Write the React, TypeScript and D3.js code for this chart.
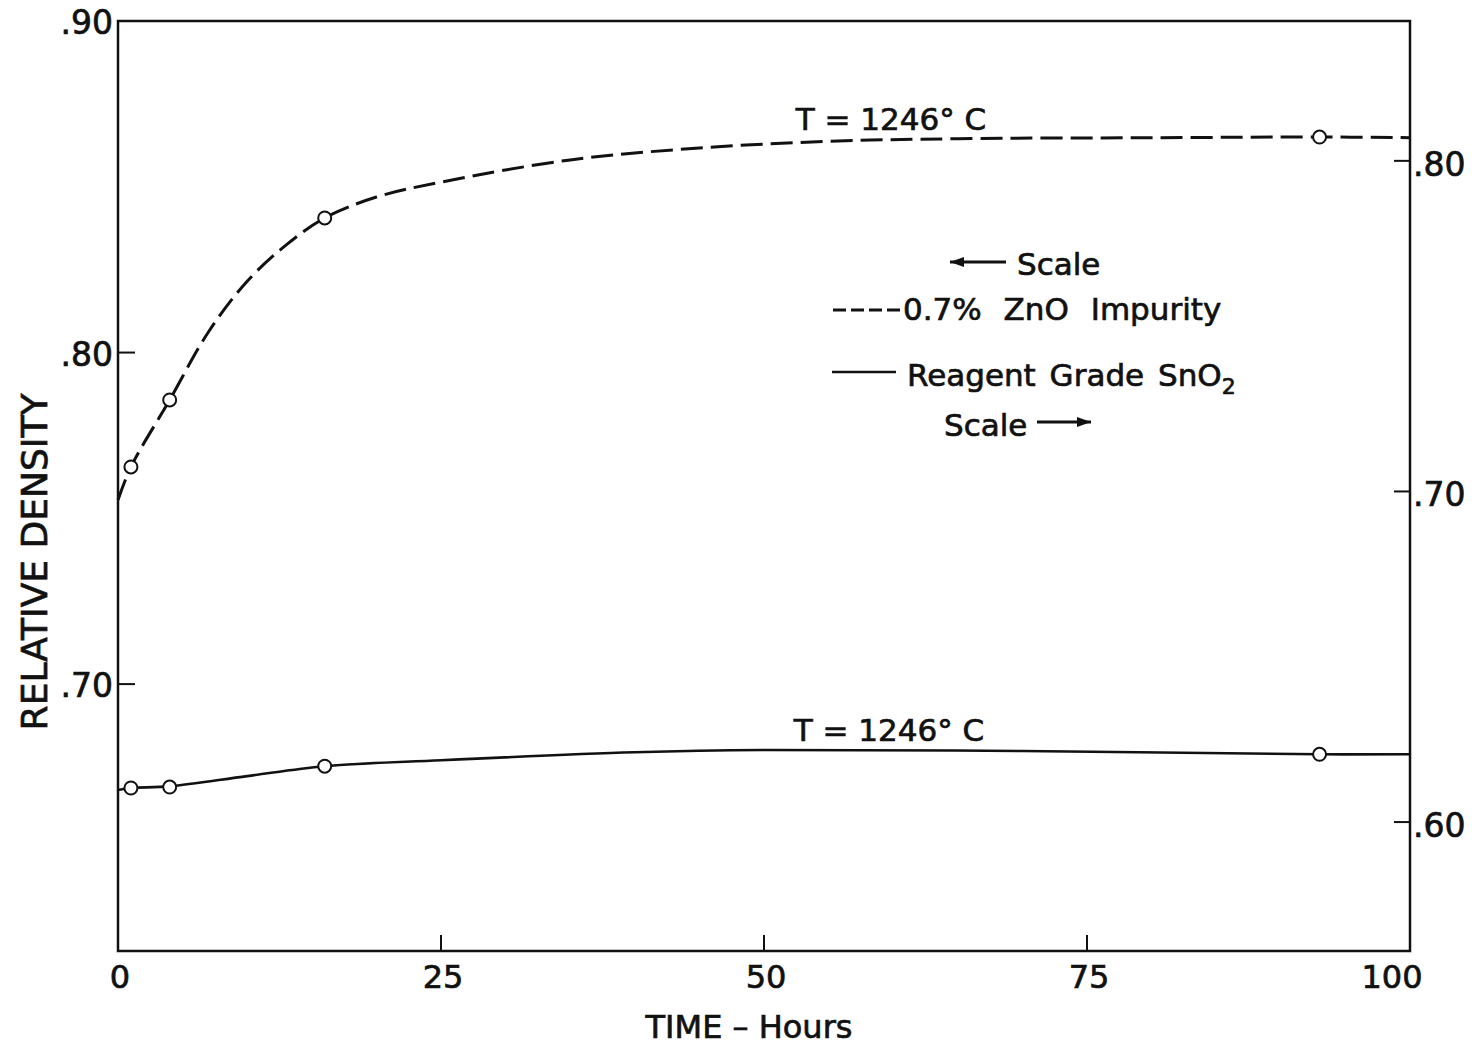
import React, { useEffect, useRef } from "react";
import * as d3 from "d3";

// 0.7% ZnO impurity (left scale) - measured points and drawn curve
const zincHours = [1, 4, 16, 93];
const zincDensity = [0.7655, 0.7857, 0.8406, 0.865];
const zincCurveHours = [0, 1, 4, 7, 10, 13, 16, 20, 25, 35, 45, 55, 65, 80, 93, 100];
const zincCurveDensity = [0.7555, 0.7655, 0.7857, 0.8062, 0.8215, 0.8324, 0.8406, 0.8469, 0.8514, 0.8581, 0.8617, 0.8637, 0.8645, 0.8648, 0.865, 0.8648];

// Reagent grade SnO2 (right scale)
const reagentHours = [1, 4, 16, 93];
const reagentDensity = [0.6103, 0.6106, 0.6169, 0.6205];
const reagentCurveHours = [0, 1, 4, 10, 16, 25, 40, 50, 70, 93, 100];
const reagentCurveDensity = [0.6097, 0.6103, 0.6108, 0.6139, 0.6169, 0.6187, 0.6211, 0.6218, 0.6215, 0.6205, 0.6205];

const xTicks = [0, 25, 50, 75, 100];
const leftTicks = [0.7, 0.8, 0.9];
const rightTicks = [0.6, 0.7, 0.8];

const FONT = "'DejaVu Sans', sans-serif";

export default function App() {
  const ref = useRef<SVGSVGElement>(null);

  useEffect(() => {
    const svg = d3.select(ref.current);
    svg.selectAll("*").remove();

    const x = d3.scaleLinear().domain([0, 100]).range([118, 1410]);
    const yLeft = d3.scaleLinear().domain([0.6195, 0.9]).range([951, 21]);
    const yRight = d3.scaleLinear().domain([0.561, 0.8423]).range([951, 21]);

    // text is drawn slightly heavier to look like the stencil lettering
    const g = svg.append("g").attr("font-family", FONT).attr("fill", "#111");
    const txt = g.append("g").attr("stroke", "#111").attr("stroke-width", 0.7);

    // frame
    g.append("rect")
      .attr("x", x(0)).attr("y", yLeft(0.9))
      .attr("width", x(100) - x(0)).attr("height", yLeft(0.6195) - yLeft(0.9))
      .attr("fill", "none").attr("stroke", "#111").attr("stroke-width", 2.5);

    // bottom ticks
    const bottom = yLeft(0.6195);
    g.selectAll(".xt").data(xTicks.slice(1, -1)).join("line")
      .attr("x1", d => x(d)).attr("x2", d => x(d))
      .attr("y1", bottom).attr("y2", bottom - 16)
      .attr("stroke", "#111").attr("stroke-width", 2);
    txt.selectAll(".xl").data(xTicks).join("text")
      .attr("x", d => (d === 100 ? x(d) - 18 : x(d) + 2))
      .attr("y", bottom + 37)
      .attr("text-anchor", "middle")
      .attr("font-size", 32)
      .text(d => String(d));

    // left ticks
    g.selectAll(".lt").data(leftTicks.slice(0, -1)).join("line")
      .attr("x1", x(0)).attr("x2", x(0) + 17)
      .attr("y1", d => yLeft(d)).attr("y2", d => yLeft(d))
      .attr("stroke", "#111").attr("stroke-width", 2);
    txt.selectAll(".ll").data(leftTicks).join("text")
      .attr("x", x(0) - 5).attr("y", d => yLeft(d) + 13)
      .attr("text-anchor", "end").attr("font-size", 33)
      .text(d => d3.format(".2f")(d).replace(/^0/, ""));

    // right ticks
    g.selectAll(".rt").data(rightTicks).join("line")
      .attr("x1", x(100)).attr("x2", x(100) - 16)
      .attr("y1", d => yRight(d)).attr("y2", d => yRight(d))
      .attr("stroke", "#111").attr("stroke-width", 2);
    txt.selectAll(".rl").data(rightTicks).join("text")
      .attr("x", x(100) + 3).attr("y", d => yRight(d) + 15)
      .attr("text-anchor", "start").attr("font-size", 33)
      .text(d => d3.format(".2f")(d).replace(/^0/, ""));

    // axis titles
    txt.append("text")
      .attr("transform", `translate(47, 562) rotate(-90)`)
      .attr("text-anchor", "middle").attr("font-size", 36)
      .text("RELATIVE DENSITY");
    txt.append("text")
      .attr("x", 749).attr("y", 1038)
      .attr("text-anchor", "middle").attr("font-size", 32)
      .text("TIME – Hours");

    // curves
    const zincLine = d3.line<number>()
      .x((_, i) => x(zincCurveHours[i]))
      .y(d => yLeft(d))
      .curve(d3.curveCatmullRom.alpha(0.5));
    g.append("path")
      .attr("d", zincLine(zincCurveDensity))
      .attr("fill", "none").attr("stroke", "#111").attr("stroke-width", 3)
      .attr("stroke-dasharray", "22 8");

    const reagentLine = d3.line<number>()
      .x((_, i) => x(reagentCurveHours[i]))
      .y(d => yRight(d))
      .curve(d3.curveCatmullRom.alpha(0.5));
    g.append("path")
      .attr("d", reagentLine(reagentCurveDensity))
      .attr("fill", "none").attr("stroke", "#111").attr("stroke-width", 2.6);

    // points
    g.selectAll(".zp").data(zincDensity).join("circle")
      .attr("cx", (_, i) => x(zincHours[i])).attr("cy", d => yLeft(d))
      .attr("r", 6.5).attr("fill", "#fff").attr("stroke", "#111").attr("stroke-width", 2);
    g.selectAll(".rp").data(reagentDensity).join("circle")
      .attr("cx", (_, i) => x(reagentHours[i])).attr("cy", d => yRight(d))
      .attr("r", 6.5).attr("fill", "#fff").attr("stroke", "#111").attr("stroke-width", 2);

    // curve labels
    txt.append("text").attr("x", 891).attr("y", 130)
      .attr("text-anchor", "middle").attr("font-size", 31).text("T = 1246° C");
    txt.append("text").attr("x", 889).attr("y", 741)
      .attr("text-anchor", "middle").attr("font-size", 31).text("T = 1246° C");

    // legend
    const leg = g.append("g");
    const arrow = (x1: number, x2: number, y: number) => {
      leg.append("line").attr("x1", x1).attr("x2", x2).attr("y1", y).attr("y2", y)
        .attr("stroke", "#111").attr("stroke-width", 3);
      const dir = x2 > x1 ? 1 : -1;
      leg.append("path")
        .attr("d", `M${x2},${y} L${x2 - dir * 14},${y - 5} L${x2 - dir * 14},${y + 5} Z`)
        .attr("fill", "#111");
    };
    arrow(1006, 950, 262);
    txt.append("text").attr("x", 1017).attr("y", 275).attr("font-size", 31).text("Scale");

    leg.append("line").attr("x1", 833).attr("x2", 900).attr("y1", 310).attr("y2", 310)
      .attr("stroke", "#111").attr("stroke-width", 3).attr("stroke-dasharray", "13 5");
    txt.append("text").attr("x", 903).attr("y", 320).attr("font-size", 31)
      .attr("word-spacing", 12).text("0.7% ZnO Impurity");

    leg.append("line").attr("x1", 832).attr("x2", 896).attr("y1", 372).attr("y2", 372)
      .attr("stroke", "#111").attr("stroke-width", 2.6);
    const reag = txt.append("text").attr("x", 907).attr("y", 386).attr("font-size", 31)
      .attr("word-spacing", 4);
    reag.append("tspan").text("Reagent Grade SnO");
    reag.append("tspan").attr("dy", 8).attr("font-size", 22).text("2");

    txt.append("text").attr("x", 944).attr("y", 436).attr("font-size", 31).text("Scale");
    arrow(1037, 1091, 422);
  }, []);

  return (
    <div style={{ position: "absolute", left: 0, top: 0 }}>
      <svg ref={ref} width={1475} height={1048} style={{ display: "block", background: "#fff" }} />
    </div>
  );
}
